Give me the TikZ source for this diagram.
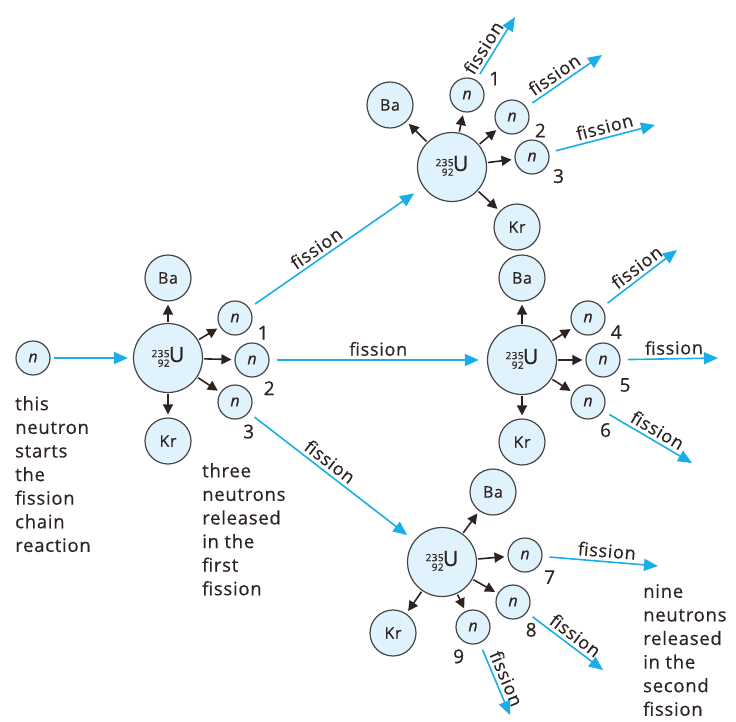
\documentclass[tikz,border=0pt]{standalone}
\usepackage{fontspec}
\setmainfont{Open Sans}[LetterSpace=4,FakeBold=0.5]
\usepackage{xcolor}
\usetikzlibrary{arrows.meta}

\definecolor{fissionblue}{RGB}{26,174,230}
\definecolor{nucfill}{RGB}{224,242,251}
\definecolor{nucline}{RGB}{70,70,70}
\definecolor{textcol}{RGB}{45,35,35}

% uranium-235 symbol with stacked mass and atomic number
\newcommand{\uranium}{{\fontsize{10}{9}\selectfont\renewcommand{\arraystretch}{0.85}\begin{tabular}{@{}r@{}}235\\92\end{tabular}}\kern-0.5pt U}

\begin{document}
\begin{tikzpicture}[x=1pt,y=-1pt,
    nucleus/.style={circle,draw=nucline,fill=nucfill,line width=1.2pt,minimum size=69pt,inner sep=0pt,text=textcol,font=\fontsize{21}{21}\selectfont},
    fragment/.style={circle,draw=nucline,fill=nucfill,line width=1.2pt,minimum size=46pt,inner sep=0pt,text=textcol,font=\fontsize{16}{16}\selectfont},
    neutron/.style={circle,draw=nucline,fill=nucfill,line width=1.2pt,minimum size=34pt,inner sep=0pt,text=textcol,font=\fontsize{16}{16}\selectfont\itshape},
    emit/.style={-{Triangle[length=10pt,width=10pt]},line width=1.6pt,textcol,shorten <=1pt,shorten >=3pt},
    chain/.style={-{Triangle[length=14pt,width=12pt]},line width=1.6pt,fissionblue,shorten <=7pt},
    fisslabel/.style={above,sloped,text=textcol,font=\fontsize{18}{18}\selectfont},
    num/.style={text=textcol,font=\fontsize{19}{19}\selectfont,label distance=2pt},
    note/.style={align=left,anchor=north west,inner sep=0pt,text=textcol,font=\fontsize{18.5}{23.6}\selectfont}
]
    \useasboundingbox (0,0) rectangle (736,721);

    % Starting neutron and first fission
    \node[neutron] (n0) at (33,358) {n};
    \node[nucleus] (u0) at (168,358) {\uranium};
    \node[fragment] (ba0) at (168,278) {Ba};
    \node[fragment] (kr0) at (168,441) {Kr};
    \node[neutron,label={[num]-13:1}] (a1) at (235,318) {n};
    \node[neutron,label={[num]-65:2}] (a2) at (252,360) {n};
    \node[neutron,label={[num]-76:3}] (a3) at (235,402) {n};

    \draw[chain,shorten <=3pt,shorten >=5pt] (n0) -- (u0);
    \foreach \f in {ba0,kr0,a1,a2,a3}
        \draw[emit] (u0) -- (\f);

    % Second fission: top
    \node[nucleus] (u1) at (452,167) {\uranium};
    \node[fragment] (ba1) at (390,105) {Ba};
    \node[fragment] (kr1) at (517,227) {Kr};
    \node[neutron,label={[num]18:1}] (b1) at (467,95) {n};
    \node[neutron,label={[num]-9:2}] (b2) at (512,117) {n};
    \node[neutron,label={[num]-26:3}] (b3) at (532,157) {n};
    \foreach \f in {ba1,kr1,b1,b2,b3}
        \draw[emit] (u1) -- (\f);

    % Second fission: middle
    \node[nucleus] (u2) at (522,360) {\uranium};
    \node[fragment] (ba2) at (522,278) {Ba};
    \node[fragment] (kr2) at (522,442) {Kr};
    \node[neutron,label={[num]-11:4}] (b4) at (588,318) {n};
    \node[neutron,label={[num]-48:5}] (b5) at (603,360) {n};
    \node[neutron,label={[num]-64:6}] (b6) at (588,402) {n};
    \foreach \f in {ba2,kr2,b4,b5,b6}
        \draw[emit] (u2) -- (\f);

    % Second fission: bottom
    \node[nucleus] (u3) at (442,562) {\uranium};
    \node[fragment] (ba3) at (493,492) {Ba};
    \node[fragment] (kr3) at (393,633) {Kr};
    \node[neutron,label={[num]-37:7}] (b7) at (525,555) {n};
    \node[neutron,label={[num]-62:8}] (b8) at (513,602) {n};
    \node[neutron,label={[num]-106:9}] (b9) at (473,627) {n};
    \foreach \f in {ba3,kr3,b7,b8,b9}
        \draw[emit] (u3) -- (\f);

    % First generation neutrons cause fission
    \draw[chain,shorten >=11pt] (a1) -- node[fisslabel,pos=0.42] {fission} (u1);
    \draw[chain,shorten >=8pt] (a2) -- node[fisslabel] {fission} (u2);
    \draw[chain,shorten >=9pt] (a3) -- node[fisslabel,pos=0.45] {fission} (u3);

    % Free ends of the second generation
    \coordinate (e1) at (515,17);
    \coordinate (e2) at (602,55);
    \coordinate (e3) at (655,125);
    \coordinate (e4) at (677,250);
    \coordinate (e5) at (718,358);
    \coordinate (e6) at (692,463);
    \coordinate (e7) at (658,566);
    \coordinate (e8) at (603,670);
    \coordinate (e9) at (510,715);

    \draw[chain] (b1) -- node[fisslabel,pos=0.45,xshift=-2pt] {fission} (e1);
    \draw[chain] (b2) -- node[fisslabel,pos=0.45] {fission} (e2);
    \draw[chain] (b3) -- node[fisslabel,pos=0.55] {fission} (e3);
    \draw[chain] (b4) -- node[fisslabel,pos=0.55] {fission} (e4);
    \draw[chain] (b5) -- node[fisslabel,pos=0.55] {fission} (e5);
    \draw[chain] (b6) -- node[fisslabel,pos=0.55] {fission} (e6);
    \draw[chain] (b7) -- node[fisslabel,pos=0.55] {fission} (e7);
    \draw[chain] (b8) -- node[fisslabel,pos=0.55] {fission} (e8);
    \draw[chain] (b9) -- node[fisslabel,pos=0.55] {fission} (e9);

    % Notes
    \node[note] (start) at (15,396) {this\\neutron\\starts\\the\\fission\\chain\\reaction};
    \node[note] (first) at (202,463) {three\\neutrons\\released\\in the\\first\\fission};
    \node[note] (second) at (643,584) {nine\\neutrons\\released\\in the\\second\\fission};
\end{tikzpicture}
\end{document}
